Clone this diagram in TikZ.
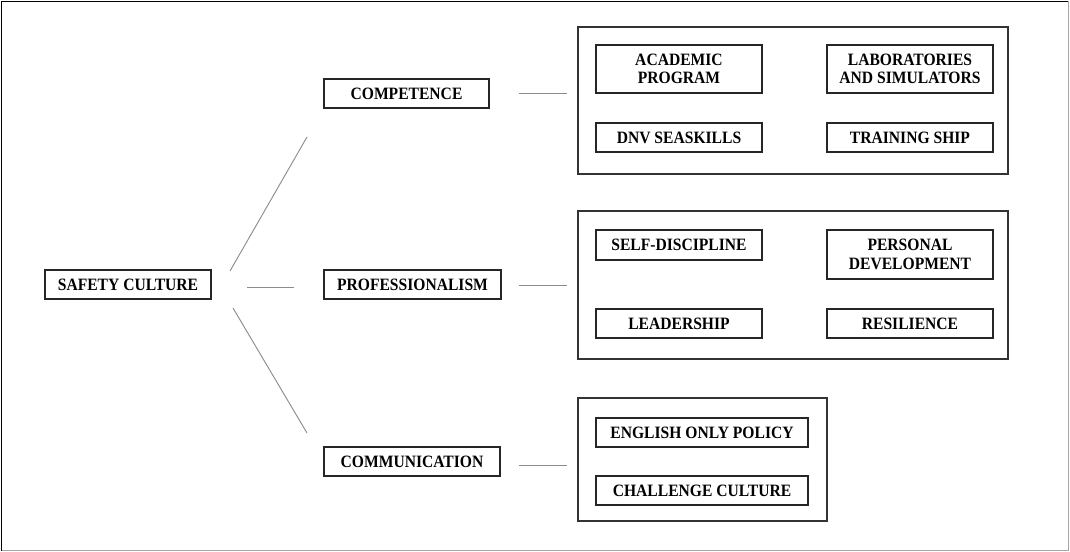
\documentclass[tikz,border=0pt]{standalone}
\usepackage{fontspec}
\setmainfont{Liberation Serif}
\newfontfamily\boxfont{Liberation Serif}[FakeStretch=0.9]
\begin{document}
\begin{tikzpicture}[x=0.75pt,y=-0.75pt,
  bx/.style 2 args={draw=black!85, line width=0.9pt, inner sep=0pt, align=center,
    minimum width=#1, minimum height=#2,
    font=\boxfont\fontsize{13}{13.9}\selectfont\bfseries},
  grp/.style 2 args={draw=black!80, line width=0.9pt, inner sep=0pt,
    minimum width=#1, minimum height=#2},
  link/.style={draw=black!45, line width=0.7pt}]
\useasboundingbox (0,0) rectangle (1070,552);
\draw[black, line width=1pt] (1.5,550.5) -- (1.5,1.5) -- (1068.5,1.5);
\draw[black!35, line width=1pt] (1068.5,1.5) -- (1068.5,550.5) -- (1.5,550.5);

% main nodes
\node[bx={124.5pt}{21.75pt}] (safety) at (128,284.5) {SAFETY CULTURE};
\node[bx={123.75pt}{21.75pt}] (comp) at (406.5,93.5) {COMPETENCE};
\node[bx={132.75pt}{21.75pt}] (prof) at (412.5,284.5) {PROFESSIONALISM};
\node[bx={132pt}{21.75pt}] (comm) at (412,461.5) {COMMUNICATION};

% groups
\node[grp={322.5pt}{110.25pt}] (g1) at (793,100.5) {};
\node[grp={322.5pt}{111pt}] (g2) at (793,285) {};
\node[grp={186.75pt}{92.25pt}] (g3) at (702.5,459.5) {};

% group 1
\node[bx={124.5pt}{36pt}] (acad) at (679,69) {ACADEMIC\\PROGRAM};
\node[bx={124.5pt}{36pt}] (lab) at (910,69) {LABORATORIES\\AND SIMULATORS};
\node[bx={124.5pt}{21.75pt}] (dnv) at (679,137.5) {DNV SEASKILLS};
\node[bx={124.5pt}{21.75pt}] (ship) at (910,137.5) {TRAINING SHIP};

% group 2
\node[bx={124.5pt}{22.5pt}] (selfd) at (679,245) {SELF-DISCIPLINE};
\node[bx={124.5pt}{36.75pt}] (pers) at (910,254.5) {PERSONAL\\DEVELOPMENT};
\node[bx={124.5pt}{21.75pt}] (lead) at (679,323.5) {LEADERSHIP};
\node[bx={124.5pt}{21.75pt}] (resil) at (910,323.5) {RESILIENCE};

% group 3
\node[bx={159pt}{21.75pt}] (eng) at (702,432.5) {ENGLISH ONLY POLICY};
\node[bx={159pt}{21.75pt}] (chal) at (702,490.5) {CHALLENGE CULTURE};

% connector end points
\coordinate (s1a) at (230,271);
\coordinate (s1b) at (307,137);
\coordinate (s2a) at (247,287);
\coordinate (s2b) at (294,287);
\coordinate (s3a) at (233,308);
\coordinate (s3b) at (307,433);
\coordinate (c1a) at (519,93);
\coordinate (c1b) at (567,93);
\coordinate (c2a) at (519,285);
\coordinate (c2b) at (567,285);
\coordinate (c3a) at (519,465);
\coordinate (c3b) at (567,465);

\draw[link] (s1a) -- (s1b);
\draw[link] (s2a) -- (s2b);
\draw[link] (s3a) -- (s3b);
\draw[link] (c1a) -- (c1b);
\draw[link] (c2a) -- (c2b);
\draw[link] (c3a) -- (c3b);
\end{tikzpicture}
\end{document}
